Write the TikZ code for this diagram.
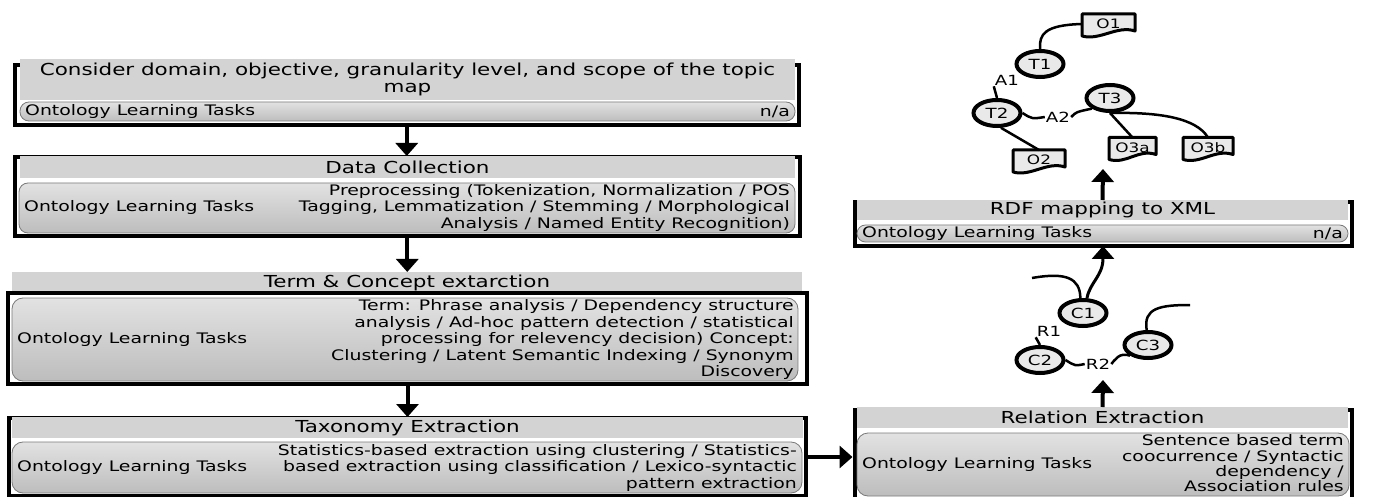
\documentclass[tikz,border=0pt]{standalone}
\usepackage{fontspec}
\setmainfont{DejaVu Sans}[FakeStretch=1.3]
\usetikzlibrary{shapes.geometric,arrows.meta,calc,backgrounds}
\definecolor{hdr}{HTML}{D3D3D3}
\definecolor{bartop}{HTML}{E2E2E2}
\definecolor{barbot}{HTML}{BDBDBD}
\definecolor{barline}{HTML}{7A7A7A}
\definecolor{nodefill}{HTML}{E9E9E9}
\newcommand\tf{\fontsize{14.5}{16.5}\selectfont}
\newcommand\hf{\fontsize{16.5}{17}\selectfont}
\newcommand\docshp[1]{%
  \draw[line width=3pt,fill=nodefill,line join=round]
    (#1.north west) -- (#1.north east) -- ([yshift=3pt]#1.south east)
    .. controls ([xshift=-18pt,yshift=9pt]#1.south east) and ([xshift=18pt,yshift=-7pt]#1.south west) ..
    ([yshift=-2pt]#1.south west) -- cycle;}
\begin{document}
\begin{tikzpicture}[x=1pt,y=-1pt,
  frame/.style={draw=black,line width=4pt,inner sep=0pt,outer sep=0pt},
  header/.style={fill=hdr,draw=none,inner sep=0pt,outer sep=0pt,font=\hf,align=center},
  bar/.style={draw=barline,line width=0.8pt,top color=bartop,bottom color=barbot,rounded corners=9pt,inner sep=0pt,outer sep=0pt},
  lab/.style={font=\tf,inner sep=0pt,align=right},
  arr/.style={line width=4pt,-{Triangle[width=22pt,length=13pt]}},
  lnk/.style={line width=2.5pt},
  ell/.style={ellipse,draw=black,line width=4pt,fill=nodefill,minimum width=47pt,minimum height=26pt,inner sep=0pt,font=\fontsize{14}{15}\selectfont},
  doc/.style={draw=none,inner sep=0pt,outer sep=0pt,minimum height=20pt,font=\fontsize{13}{14}\selectfont},
  elab/.style={inner sep=1pt,font=\fontsize{14}{15}\selectfont}]
\useasboundingbox (0,0) rectangle (1374,497);
\begin{scope}[on background layer]
\fill[white] (0,0) rectangle (1374,497);
\end{scope}

% ---------- Box 1 ----------
\node[frame,minimum width=783.5pt,minimum height=60pt] (f1) at (406.75,95) {};
\node[header,minimum width=775pt,minimum height=41pt] (h1) at (407.5,79.5)
  {Consider domain, objective, granularity level, and scope of the topic\\map};
\node[bar,rounded corners=9pt,minimum width=775pt,minimum height=19pt] (b1) at (407.5,111.5) {};
\node[lab,anchor=west] (b1l) at ([xshift=5pt]b1.west) {Ontology Learning Tasks};
\node[lab,anchor=east] (b1r) at ([xshift=-5pt]b1.east) {n/a};

% ---------- Box 2 ----------
\node[frame,minimum width=784.5pt,minimum height=79pt] (f2) at (407.25,196.5) {};
\node[header,minimum width=775pt,minimum height=22pt] (h2) at (407.5,167) {Data Collection};
\node[bar,minimum width=776pt,minimum height=50pt] (b2) at (407,208) {};
\node[lab,anchor=west] (b2l) at ([xshift=5pt]b2.west) {Ontology Learning Tasks};
\node[lab,anchor=east] (b2r) at ([xshift=-5pt]b2.east)
  {Preprocessing (Tokenization, Normalization / POS\\Tagging, Lemmatization / Stemming / Morphological\\Analysis / Named Entity Recognition)};

% ---------- Box 3 ----------
\node[header,minimum width=790pt,minimum height=21pt] (h3) at (407,282.5) {Term \& Concept extarction};
\node[frame,minimum width=799pt,minimum height=91pt] (f3) at (407.5,338.5) {};
\node[bar,rounded corners=11pt,minimum width=786pt,minimum height=83pt] (b3) at (405,339.5) {};
\node[lab,anchor=west] (b3l) at ([xshift=5pt]b3.west) {Ontology Learning Tasks};
\node[lab,anchor=east] (b3r) at ([xshift=-4pt]b3.east)
  {Term: Phrase analysis / Dependency structure\\analysis / Ad-hoc pattern detection / statistical\\processing for relevency decision) Concept:\\Clustering / Latent Semantic Indexing / Synonym\\Discovery};

% ---------- Box 4 ----------
\node[frame,minimum width=797pt,minimum height=78pt] (f4) at (407.5,457) {};
\node[header,minimum width=791pt,minimum height=21pt] (h4) at (407.5,427.5) {Taxonomy Extraction};
\node[bar,rounded corners=11pt,minimum width=790pt,minimum height=51pt] (b4) at (407,467.5) {};
\node[lab,anchor=west] (b4l) at ([xshift=5pt]b4.west) {Ontology Learning Tasks};
\node[lab,anchor=east] (b4r) at ([xshift=-5pt]b4.east)
  {Statistics-based extraction using clustering / Statistics-\\based extraction using classification / Lexico-syntactic\\pattern extraction};

% ---------- Relation Extraction ----------
\node[frame,minimum width=497pt,minimum height=90pt] (fR) at (1103,455) {};
\node[header,minimum width=491pt,minimum height=21pt] (hR) at (1102.5,417.5) {Relation Extraction};
\node[bar,rounded corners=11pt,minimum width=492pt,minimum height=63pt] (bR) at (1103,464.5) {};
\node[lab,anchor=west] (bRl) at ([xshift=5pt]bR.west) {Ontology Learning Tasks};
\node[lab,anchor=east,font=\fontsize{14.5}{15.3}\selectfont] (bRr) at ([xshift=-5pt,yshift=1pt]bR.east)
  {Sentence based term\\coocurrence / Syntactic\\dependency /\\Association rules};

% ---------- RDF ----------
\node[frame,minimum width=497pt,minimum height=44pt] (fX) at (1103,224) {};
\node[header,minimum width=491pt,minimum height=20pt] (hX) at (1102.5,210) {RDF mapping to XML};
\node[bar,minimum width=491pt,minimum height=17pt,rounded corners=8.5pt] (bX) at (1102.5,233.5) {};
\node[lab,anchor=west] (bXl) at ([xshift=5pt]bX.west) {Ontology Learning Tasks};
\node[lab,anchor=east] (bXr) at ([xshift=-5pt]bX.east) {n/a};

% ---------- flow arrows ----------
\draw[arr] (f1.south) -- (f1.south |- h2.north);
\draw[arr] (f2.south) -- (f2.south |- h3.north);
\draw[arr] (f3.south) -- (f3.south |- h4.north);
\draw[arr] (f4.east) -- ([xshift=-2pt]f4.east -| fR.west);
\coordinate (ctip) at (1103,380);
\draw[arr] (hR.north) -- (ctip);
\coordinate (ttip) at (1103,169);
\draw[arr] (hX.north) -- (ttip);

% ---------- concept graph ----------
\node[ell] (C1) at (1083,313) {C1};
\node[ell] (C2) at (1040,360) {C2};
\node[ell] (C3) at (1148,345) {C3};
\node[elab] (R1) at (1049,331) {R1};
\node[elab] (R2) at (1098,364) {R2};
\coordinate (c1in) at (1032,278);
\coordinate (c3out) at (1190,305);
\draw[lnk] (c1in) .. controls (1066,272) and (1080,278) .. (C1.100);
\draw[arr,line width=3pt] (C1.75) .. controls (1090,282) and (1103,276) .. (fX.south);
\draw[lnk] (C3.95) .. controls (1143,308) and (1160,305) .. (c3out);
\draw[lnk] (R1.south west) -- (C2.north);
\draw[lnk] (C2.east) .. controls (1075,366) .. (R2.west);
\draw[lnk] (R2.east) .. controls (1115,360) and (1119,352) .. (C3.south west);

% ---------- topic map graph ----------
\node[ell] (T1) at (1040,64) {T1};
\node[ell] (T2) at (997,113) {T2};
\node[ell] (T3) at (1110,98) {T3};
\node[elab] (A1) at (1007,80) {A1};
\node[elab] (A2) at (1058,117) {A2};
\node[doc,minimum width=53pt] (O1) at (1108.5,24) {O1};
\node[doc,minimum width=52pt] (O2) at (1039,160) {O2};
\node[doc,minimum width=47pt] (O3a) at (1132.5,147.5) {O3a};
\node[doc,minimum width=50pt] (O3b) at (1208,147.5) {O3b};
\begin{scope}[on background layer]
\docshp{O1}\docshp{O2}\docshp{O3a}\docshp{O3b}
\end{scope}
\draw[lnk] (O1.west) .. controls (1045,25) and (1039,34) .. (T1.north);
\draw[lnk] (A1.south west) -- (T2.north);
\draw[lnk] (T2.east) .. controls (1032,119) .. (A2.west);
\draw[lnk] (A2.east) .. controls (1076,112) .. (T3.south west);
\draw[lnk] (T2.-75) -- (O2.north);
\draw[lnk] (T3.south) -- (O3a.north);
\draw[lnk] (T3.south) .. controls (1160,112) and (1196,118) .. (O3b.north);
\end{tikzpicture}
\end{document}
